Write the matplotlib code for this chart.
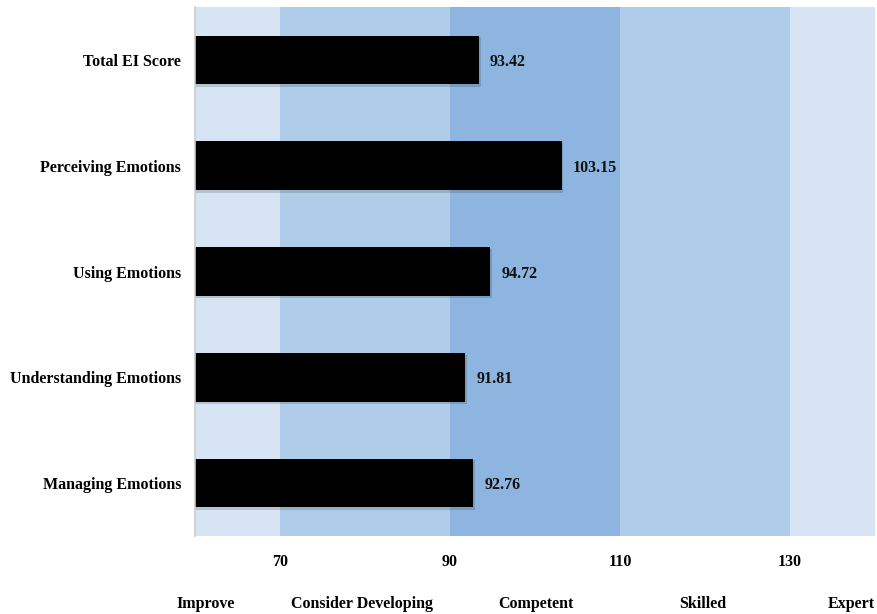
import matplotlib
matplotlib.use("Agg")
import matplotlib.pyplot as plt

plt.rcParams['font.family'] = ['Liberation Serif', 'DejaVu Serif']
plt.rcParams['font.weight'] = 'bold'

categories = ["Total EI Score", "Perceiving Emotions", "Using Emotions",
              "Understanding Emotions", "Managing Emotions"]
values = [93.42, 103.15, 94.72, 91.81, 92.76]
band_edges = [60, 70, 90, 110, 130, 140]
band_colors = ["#D6E4F3", "#AFCDE9", "#8DB5E0", "#AFCDE9", "#D6E4F3"]
band_names = ["Improve", "Consider Developing", "Competent", "Skilled", "Expert"]
band_label_x = [61.3, 79.6, 100.1, 119.7, 137.2]
ticks = [70, 90, 110, 130]

fig = plt.figure(figsize=(8.77, 6.14), dpi=100)
ax = fig.add_axes([195/877, (614-536)/614, (875-195)/877, (536-7)/614])

for i in range(len(band_colors)):
    ax.axvspan(band_edges[i], band_edges[i+1], color=band_colors[i], lw=0, zorder=0)

y = list(range(len(categories)))
# subtle shadow
ax.barh([v + 0.02 for v in y], [v - 60 + 0.2 for v in values], left=60, height=0.47,
        color="#000000", alpha=0.15, zorder=1)
ax.barh(y, [v - 60 for v in values], left=60, height=0.46, color="black", zorder=2)

for yi, v in zip(y, values):
    ax.text(v + 1.3, yi + 0.02, f"{v:.2f}", va="center", ha="left",
            fontsize=11.5, fontweight="bold", color="#111111")

ax.set_xlim(60, 140)
ax.set_ylim(4.5, -0.5)
ax.set_yticks(y)
ax.set_yticklabels(categories, fontsize=11.5, fontweight="bold")
ax.set_xticks(ticks)
ax.set_xticklabels([str(t) for t in ticks], fontsize=11.5, fontweight="bold")
ax.tick_params(axis="both", length=0)
ax.tick_params(axis="x", pad=13)
ax.tick_params(axis="y", pad=10)
for s in ["top", "right", "bottom"]:
    ax.spines[s].set_visible(False)
ax.spines["left"].set_color("#cccccc")
ax.spines["left"].set_linewidth(1.2)

for name, bx in zip(band_names, band_label_x):
    ax.text(bx, 5.14, name, ha="center", va="center", fontsize=11.5,
            fontweight="bold", clip_on=False)

fig.savefig("out.png", dpi=100)
